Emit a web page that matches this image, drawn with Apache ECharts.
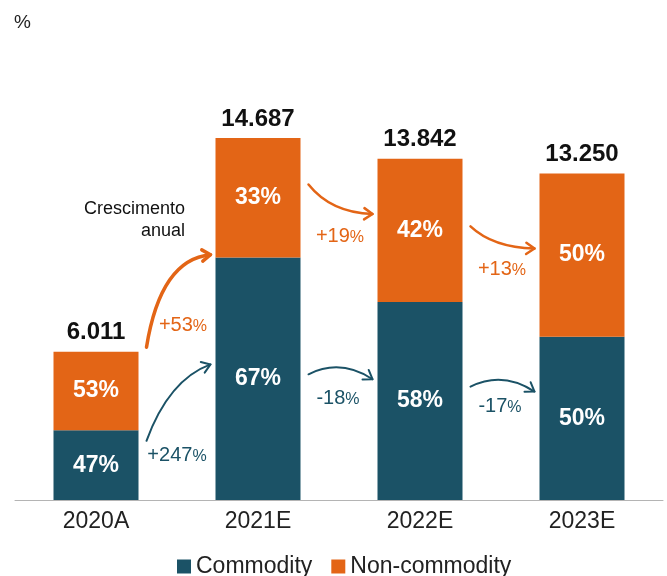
<!DOCTYPE html>
<html>
<head>
<meta charset="utf-8">
<script src="https://cdn.jsdelivr.net/npm/echarts@6/dist/echarts.min.js"></script>
<style>
  html, body { margin: 0; padding: 0; background: #fff; }
  #chart { width: 667px; height: 576px; }
</style>
</head>
<body>
<div id="chart"></div>
<script>
// dados
const years = ['2020A', '2021E', '2022E', '2023E'];
const totals = [6.011, 14.687, 13.842, 13.250];
const commodityPct = [47, 67, 58, 50];
const nonCommodityPct = [53, 33, 42, 50];
const commodityGrowth = ['+247', '-18', '-17'];
const nonCommodityGrowth = ['+53', '+19', '+13'];

const TEAL = '#1B5266';
const ORANGE = '#E36516';
const FONT = 'Liberation Sans';

// valores empilhados a partir do total e da participação
const commodityVals = totals.map((t, i) => t * commodityPct[i] / 100);
const nonCommodityVals = totals.map((t, i) => t - commodityVals[i]);

// setas de crescimento: y inicial/final (em unidades do eixo), curvatura, posição do rótulo
const arrows = [
  { from: 0, y0: 6.2, y1: 9.95, a: 0.22, b: 0.95, color: ORANGE, w: 3.5, label: nonCommodityGrowth[0], lx: 183, ly: 325 },
  { from: 0, y0: 2.4, y1: 5.5, a: 0.35, b: 0.8, color: TEAL, w: 2, label: commodityGrowth[0], lx: 177, ly: 455 },
  { from: 1, y0: 12.8, y1: 11.6, a: 0.35, b: 0.95, color: ORANGE, w: 2.5, label: nonCommodityGrowth[1], lx: 340, ly: 236 },
  { from: 1, y0: 5.1, y1: 4.9, arc: true, color: TEAL, w: 2, label: commodityGrowth[1], lx: 338, ly: 398 },
  { from: 2, y0: 11.1, y1: 10.2, a: 0.35, b: 0.95, color: ORANGE, w: 2.5, label: nonCommodityGrowth[2], lx: 502, ly: 269 },
  { from: 2, y0: 4.6, y1: 4.4, arc: true, color: TEAL, w: 2, label: commodityGrowth[2], lx: 500, ly: 406 }
];

const chart = echarts.init(document.getElementById('chart'));

const pctLabel = (arr) => ({
  show: true,
  position: 'inside',
  color: '#fff',
  fontFamily: FONT,
  fontWeight: 'bold',
  fontSize: 23,
  formatter: p => arr[p.dataIndex] + '%'
});

chart.setOption({
  animation: false,
  textStyle: { fontFamily: FONT },
  grid: { left: 15, right: 4, top: 105.6, bottom: 76 },
  legend: {
    top: 550,
    left: 172,
    itemWidth: 14,
    itemHeight: 14,
    itemGap: 19,
    icon: 'rect',
    textStyle: { fontSize: 23, color: '#222', fontFamily: FONT },
    data: ['Commodity', 'Non-commodity']
  },
  xAxis: {
    type: 'category',
    data: years,
    axisLine: { lineStyle: { color: '#b4b4b4', width: 1 } },
    axisTick: { show: false },
    axisLabel: { fontSize: 23, color: '#222', margin: 10, fontFamily: FONT }
  },
  yAxis: {
    type: 'value',
    min: 0,
    max: 16,
    show: false,
    splitLine: { show: false }
  },
  series: [
    {
      name: 'Commodity',
      type: 'bar',
      stack: 'total',
      barWidth: 85,
      data: commodityVals,
      itemStyle: { color: TEAL },
      label: pctLabel(commodityPct)
    },
    {
      name: 'Non-commodity',
      type: 'bar',
      stack: 'total',
      data: nonCommodityVals,
      itemStyle: { color: ORANGE },
      label: pctLabel(nonCommodityPct)
    },
    {
      name: 'Total',
      type: 'bar',
      stack: 'total',
      data: totals.map(() => 0),
      itemStyle: { color: 'transparent' },
      label: {
        show: true,
        position: 'top',
        distance: 7,
        color: '#111',
        fontFamily: FONT,
        fontWeight: 'bold',
        fontSize: 24,
        formatter: p => totals[p.dataIndex].toFixed(3)
      }
    }
  ]
});

// desenho das setas e textos
const halfBar = 42.5;
const graphics = [];

graphics.push({
  type: 'text', left: 14, top: 13,
  style: { text: '%', fontSize: 19, fill: '#222', fontFamily: FONT }
});
graphics.push({
  type: 'text', x: 185, y: 198,
  style: {
    text: 'Crescimento\nanual', fontSize: 18, fill: '#111', fontFamily: FONT,
    align: 'right', lineHeight: 22
  }
});

arrows.forEach(ar => {
  const p0 = chart.convertToPixel({ gridIndex: 0 }, [ar.from, ar.y0]);
  const p1 = chart.convertToPixel({ gridIndex: 0 }, [ar.from + 1, ar.y1]);
  const x0 = p0[0] + halfBar + 8;
  const y0 = p0[1];
  const x1 = p1[0] - halfBar - 5;
  const y1 = p1[1];
  let cx, cy;
  if (ar.arc) {
    cx = (x0 + x1) / 2;
    cy = Math.min(y0, y1) - 16;
  } else {
    cx = x0 + (x1 - x0) * ar.a;
    cy = y0 + (y1 - y0) * ar.b;
  }
  graphics.push({
    type: 'bezierCurve',
    shape: { x1: x0, y1: y0, x2: x1, y2: y1, cpx1: cx, cpy1: cy },
    style: { stroke: ar.color, lineWidth: ar.w, fill: null, lineCap: 'round' }
  });
  const ang = Math.atan2(y1 - cy, x1 - cx);
  const len = 10;
  const wing = 0.6;
  graphics.push({
    type: 'polyline',
    shape: {
      points: [
        [x1 - len * Math.cos(ang - wing), y1 - len * Math.sin(ang - wing)],
        [x1, y1],
        [x1 - len * Math.cos(ang + wing), y1 - len * Math.sin(ang + wing)]
      ]
    },
    style: { stroke: ar.color, lineWidth: ar.w, fill: null, lineCap: 'round', lineJoin: 'round' }
  });
  graphics.push({
    type: 'text', x: ar.lx, y: ar.ly,
    style: {
      text: '{n|' + ar.label + '}{p|%}',
      align: 'center', verticalAlign: 'middle',
      rich: {
        n: { fontSize: 20, fill: ar.color, fontFamily: FONT },
        p: { fontSize: 16, fill: ar.color, fontFamily: FONT, padding: [3, 0, 0, 0] }
      }
    }
  });
});

chart.setOption({ graphic: graphics });
</script>
</body>
</html>
